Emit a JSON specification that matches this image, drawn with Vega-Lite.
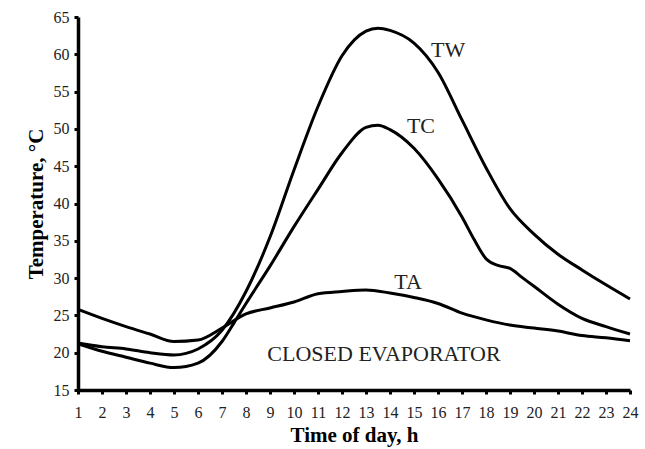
{
  "$schema": "https://vega.github.io/schema/vega-lite/v6.json",
  "width": 552,
  "height": 373,
  "autosize": "none",
  "padding": {"left": 78, "top": 17, "right": 15, "bottom": 59},
  "background": "white",
  "config": {
    "view": {"stroke": null},
    "font": "Liberation Serif",
    "axis": {"grid": false, "domainColor": "black", "domainWidth": 3.5, "tickColor": "black", "tickWidth": 3, "tickSize": 4, "labelFont": "Liberation Serif", "labelFontSize": 16, "labelColor": "#222", "labelOverlap": false, "titleFont": "Liberation Serif", "titleFontSize": 21, "titleFontWeight": "bold", "titleColor": "black"},
    "text": {"fontSize": 22, "font": "Liberation Serif", "color": "#222", "align": "center", "baseline": "middle"}
  },
  "layer": [
    {
      "data": {
        "values": [
          {"h": 1, "T": 25.8, "s": "TA"}, {"h": 2, "T": 24.6, "s": "TA"}, {"h": 3, "T": 23.5, "s": "TA"}, {"h": 4, "T": 22.5, "s": "TA"}, {"h": 5, "T": 21.5, "s": "TA"}, {"h": 6, "T": 21.7, "s": "TA"}, {"h": 7, "T": 23.3, "s": "TA"}, {"h": 8, "T": 25.2, "s": "TA"}, {"h": 9, "T": 26.0, "s": "TA"}, {"h": 10, "T": 26.8, "s": "TA"}, {"h": 11, "T": 27.9, "s": "TA"}, {"h": 12, "T": 28.2, "s": "TA"}, {"h": 13, "T": 28.4, "s": "TA"}, {"h": 14, "T": 28.0, "s": "TA"}, {"h": 15, "T": 27.4, "s": "TA"}, {"h": 16, "T": 26.6, "s": "TA"}, {"h": 17, "T": 25.3, "s": "TA"}, {"h": 18, "T": 24.4, "s": "TA"}, {"h": 19, "T": 23.7, "s": "TA"}, {"h": 20, "T": 23.3, "s": "TA"}, {"h": 21, "T": 22.9, "s": "TA"}, {"h": 22, "T": 22.3, "s": "TA"}, {"h": 23, "T": 22.0, "s": "TA"}, {"h": 24, "T": 21.6, "s": "TA"},
          {"h": 1, "T": 21.3, "s": "TW"}, {"h": 2, "T": 20.8, "s": "TW"}, {"h": 3, "T": 20.5, "s": "TW"}, {"h": 4, "T": 20.0, "s": "TW"}, {"h": 5, "T": 19.7, "s": "TW"}, {"h": 6, "T": 20.5, "s": "TW"}, {"h": 7, "T": 23.0, "s": "TW"}, {"h": 8, "T": 28.2, "s": "TW"}, {"h": 9, "T": 35.5, "s": "TW"}, {"h": 10, "T": 44.5, "s": "TW"}, {"h": 11, "T": 53.0, "s": "TW"}, {"h": 12, "T": 59.8, "s": "TW"}, {"h": 13, "T": 63.1, "s": "TW"}, {"h": 13.5, "T": 63.5, "s": "TW"}, {"h": 14, "T": 63.2, "s": "TW"}, {"h": 15, "T": 61.5, "s": "TW"}, {"h": 16, "T": 57.6, "s": "TW"}, {"h": 17, "T": 51.2, "s": "TW"}, {"h": 18, "T": 44.8, "s": "TW"}, {"h": 19, "T": 39.3, "s": "TW"}, {"h": 20, "T": 35.9, "s": "TW"}, {"h": 21, "T": 33.2, "s": "TW"}, {"h": 22, "T": 31.1, "s": "TW"}, {"h": 23, "T": 29.1, "s": "TW"}, {"h": 24, "T": 27.2, "s": "TW"},
          {"h": 1, "T": 21.2, "s": "TC"}, {"h": 2, "T": 20.2, "s": "TC"}, {"h": 3, "T": 19.4, "s": "TC"}, {"h": 4, "T": 18.6, "s": "TC"}, {"h": 5, "T": 18.0, "s": "TC"}, {"h": 6, "T": 18.6, "s": "TC"}, {"h": 7, "T": 21.5, "s": "TC"}, {"h": 7.5, "T": 24.0, "s": "TC"}, {"h": 8, "T": 26.6, "s": "TC"}, {"h": 9, "T": 31.6, "s": "TC"}, {"h": 10, "T": 36.9, "s": "TC"}, {"h": 11, "T": 41.9, "s": "TC"}, {"h": 12, "T": 46.8, "s": "TC"}, {"h": 13, "T": 50.2, "s": "TC"}, {"h": 13.5, "T": 50.5, "s": "TC"}, {"h": 14, "T": 49.9, "s": "TC"}, {"h": 15, "T": 47.4, "s": "TC"}, {"h": 16, "T": 43.3, "s": "TC"}, {"h": 17, "T": 38.2, "s": "TC"}, {"h": 17.5, "T": 35.2, "s": "TC"}, {"h": 18, "T": 32.6, "s": "TC"}, {"h": 18.5, "T": 31.7, "s": "TC"}, {"h": 19, "T": 31.3, "s": "TC"}, {"h": 19.5, "T": 30.1, "s": "TC"}, {"h": 20, "T": 28.9, "s": "TC"}, {"h": 21, "T": 26.5, "s": "TC"}, {"h": 22, "T": 24.6, "s": "TC"}, {"h": 23, "T": 23.5, "s": "TC"}, {"h": 24, "T": 22.5, "s": "TC"}
        ]
      },
      "mark": {"type": "line", "interpolate": "monotone", "color": "black", "strokeWidth": 3},
      "encoding": {
        "x": {"field": "h", "type": "quantitative", "scale": {"domain": [1, 24], "nice": false, "zero": false}, "axis": {"values": [1,2,3,4,5,6,7,8,9,10,11,12,13,14,15,16,17,18,19,20,21,22,23,24], "title": "Time of day, h", "labelPadding": 10, "titlePadding": 4, "labelFlush": false, "labelOverlap": false}},
        "y": {"field": "T", "type": "quantitative", "scale": {"domain": [15, 65], "nice": false, "zero": false}, "axis": {"values": [15,20,25,30,35,40,45,50,55,60,65], "title": "Temperature, °C", "labelPadding": 5, "titlePadding": 7, "labelFlush": false, "labelOverlap": false}},
        "detail": {"field": "s", "type": "nominal"}
      }
    },
    {
      "data": {"values": [{"label": "TW"}]},
      "mark": {"type": "text"},
      "encoding": {
        "x": {"datum": 16.42, "type": "quantitative", "axis": {"values": [1,2,3,4,5,6,7,8,9,10,11,12,13,14,15,16,17,18,19,20,21,22,23,24], "title": "Time of day, h", "labelPadding": 10, "titlePadding": 4, "labelFlush": false, "labelOverlap": false}},
        "y": {"datum": 60.6, "type": "quantitative", "axis": {"values": [15,20,25,30,35,40,45,50,55,60,65], "title": "Temperature, °C", "labelPadding": 5, "titlePadding": 7, "labelFlush": false, "labelOverlap": false}},
        "text": {"field": "label"}
      }
    },
    {
      "data": {"values": [{"label": "TC"}]},
      "mark": {"type": "text"},
      "encoding": {
        "x": {"datum": 15.29, "type": "quantitative", "axis": {"values": [1,2,3,4,5,6,7,8,9,10,11,12,13,14,15,16,17,18,19,20,21,22,23,24], "title": "Time of day, h", "labelPadding": 10, "titlePadding": 4, "labelFlush": false, "labelOverlap": false}},
        "y": {"datum": 50.4, "type": "quantitative", "axis": {"values": [15,20,25,30,35,40,45,50,55,60,65], "title": "Temperature, °C", "labelPadding": 5, "titlePadding": 7, "labelFlush": false, "labelOverlap": false}},
        "text": {"field": "label"}
      }
    },
    {
      "data": {"values": [{"label": "TA"}]},
      "mark": {"type": "text"},
      "encoding": {
        "x": {"datum": 14.75, "type": "quantitative", "axis": {"values": [1,2,3,4,5,6,7,8,9,10,11,12,13,14,15,16,17,18,19,20,21,22,23,24], "title": "Time of day, h", "labelPadding": 10, "titlePadding": 4, "labelFlush": false, "labelOverlap": false}},
        "y": {"datum": 29.5, "type": "quantitative", "axis": {"values": [15,20,25,30,35,40,45,50,55,60,65], "title": "Temperature, °C", "labelPadding": 5, "titlePadding": 7, "labelFlush": false, "labelOverlap": false}},
        "text": {"field": "label"}
      }
    },
    {
      "data": {"values": [{"label": "CLOSED EVAPORATOR"}]},
      "mark": {"type": "text"},
      "encoding": {
        "x": {"datum": 13.75, "type": "quantitative", "axis": {"values": [1,2,3,4,5,6,7,8,9,10,11,12,13,14,15,16,17,18,19,20,21,22,23,24], "title": "Time of day, h", "labelPadding": 10, "titlePadding": 4, "labelFlush": false, "labelOverlap": false}},
        "y": {"datum": 19.8, "type": "quantitative", "axis": {"values": [15,20,25,30,35,40,45,50,55,60,65], "title": "Temperature, °C", "labelPadding": 5, "titlePadding": 7, "labelFlush": false, "labelOverlap": false}},
        "text": {"field": "label"}
      }
    }
  ]
}
